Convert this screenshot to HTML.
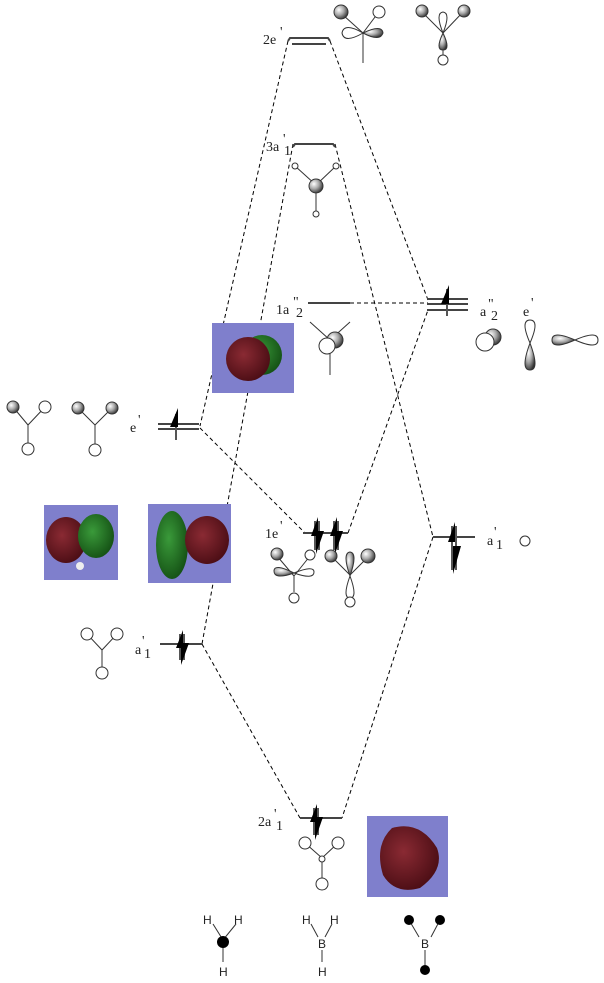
<!DOCTYPE html>
<html><head><meta charset="utf-8"><style>
html,body{margin:0;padding:0;background:#fff;}
svg{display:block;}
text{font-family:"Liberation Serif",serif;font-size:14px;fill:#222;}
.s{font-family:"Liberation Sans",sans-serif;font-size:12px;}
</style></head><body>
<svg width="604" height="983" viewBox="0 0 604 983" xmlns="http://www.w3.org/2000/svg">
<defs>
<radialGradient id="g" cx="35%" cy="35%" r="70%"><stop offset="0" stop-color="#fff"/><stop offset="0.5" stop-color="#aaa"/><stop offset="1" stop-color="#333"/></radialGradient>
<radialGradient id="red" cx="40%" cy="40%" r="65%"><stop offset="0" stop-color="#8a2a33"/><stop offset="1" stop-color="#4a0d14"/></radialGradient>
<radialGradient id="grn" cx="40%" cy="40%" r="65%"><stop offset="0" stop-color="#3a9a3a"/><stop offset="1" stop-color="#145014"/></radialGradient>
</defs>
<g stroke="#000" stroke-width="1" stroke-dasharray="4,3" fill="none">
<line x1="288" y1="41" x2="200" y2="426"/>
<line x1="330" y1="41" x2="428" y2="300"/>
<line x1="293" y1="144" x2="202" y2="644"/>
<line x1="335" y1="144" x2="433" y2="537"/>
<line x1="350" y1="303" x2="428" y2="303"/>
<line x1="200" y1="428" x2="305" y2="533"/>
<line x1="348" y1="533" x2="428" y2="310"/>
<line x1="202" y1="644" x2="300" y2="818"/>
<line x1="433" y1="537" x2="342" y2="818"/>
</g>
<g stroke="#444" stroke-width="2" fill="none">
<path d="M288 41 L290 38 L328 38 L330 41"/><line x1="292" y1="44" x2="326" y2="44"/>
<path d="M293 147 L295 144 L333 144 L335 147"/>
<line x1="308" y1="303" x2="350" y2="303"/>
<line x1="158" y1="424" x2="199" y2="424"/><line x1="158" y1="429" x2="199" y2="429"/>
<line x1="303" y1="533" x2="348" y2="533"/>
<line x1="427" y1="299" x2="468" y2="299"/><line x1="427" y1="304" x2="468" y2="304"/><line x1="427" y1="310" x2="468" y2="310"/>
<line x1="433" y1="537" x2="475" y2="537"/>
<line x1="160" y1="644" x2="202" y2="644"/>
<line x1="300" y1="818" x2="342" y2="818"/>
</g>
<g fill="#000" stroke="#555" stroke-width="2">
<line x1="176" y1="414" x2="176" y2="440"/><path d="M170 427 L178 408 L178 427Z" stroke="none"/>
<line x1="447" y1="289" x2="447" y2="316"/><path d="M441 304 L449 285 L449 304Z" stroke="none"/>
<g><line x1="180" y1="634" x2="180" y2="660"/><line x1="184" y1="634" x2="184" y2="660"/><path d="M176 648 L183 630 L183 648Z M181 643 L189 643 L181 665Z" stroke="none"/></g>
<g><line x1="315" y1="521" x2="315" y2="550"/><line x1="319" y1="521" x2="319" y2="550"/><path d="M311 536 L318 517 L318 536Z M316 531 L324 531 L316 554Z" stroke="none"/></g>
<g><line x1="334" y1="521" x2="334" y2="550"/><line x1="338" y1="521" x2="338" y2="550"/><path d="M330 536 L337 517 L337 536Z M335 531 L343 531 L335 554Z" stroke="none"/></g>
<g><line x1="452" y1="526" x2="452" y2="570"/><line x1="456" y1="526" x2="456" y2="570"/><path d="M448 542 L455 522 L455 542Z M453 546 L461 546 L453 574Z" stroke="none"/></g>
<g><line x1="314" y1="808" x2="314" y2="835"/><line x1="318" y1="808" x2="318" y2="835"/><path d="M310 822 L317 804 L317 822Z M315 817 L323 817 L315 840Z" stroke="none"/></g>
</g>
<text x="263" y="44">2e</text><text x="280" y="36" font-size="9">'</text>
<text x="266" y="151">3a</text><text x="283" y="143" font-size="9">'</text><text x="284" y="155" font-size="10">1</text>
<text x="276" y="314">1a</text><text x="293" y="306" font-size="9">"</text><text x="296" y="317" font-size="10">2</text>
<text x="130" y="432">e</text><text x="138" y="424" font-size="9">'</text>
<text x="265" y="538">1e</text><text x="280" y="530" font-size="9">'</text>
<text x="480" y="316">a</text><text x="488" y="308" font-size="9">"</text><text x="491" y="320" font-size="10">2</text>
<text x="523" y="316">e</text><text x="531" y="307" font-size="9">'</text>
<text x="487" y="545">a</text><text x="494" y="536" font-size="9">'</text><text x="496" y="549" font-size="10">1</text>
<text x="135" y="654">a</text><text x="142" y="645" font-size="9">'</text><text x="144" y="658" font-size="10">1</text>
<text x="258" y="826">2a</text><text x="274" y="818" font-size="9">'</text><text x="276" y="830" font-size="10">1</text>
<rect x="212" y="323" width="82" height="70" fill="#7f7fcc"/>
<circle cx="262" cy="355" r="20" fill="url(#grn)"/><circle cx="248" cy="359" r="22" fill="url(#red)"/>
<rect x="44" y="505" width="74" height="75" fill="#7f7fcc"/>
<ellipse cx="66" cy="540" rx="20" ry="23" fill="url(#red)"/><ellipse cx="96" cy="536" rx="18" ry="22" fill="url(#grn)"/><circle cx="80" cy="566" r="4" fill="#eee"/>
<rect x="148" y="504" width="83" height="79" fill="#7f7fcc"/>
<ellipse cx="172" cy="545" rx="16" ry="34" fill="url(#grn)"/><ellipse cx="207" cy="540" rx="22" ry="24" fill="url(#red)"/>
<rect x="367" y="816" width="81" height="81" fill="#7f7fcc"/>
<path d="M392 828 Q420 820 437 848 Q445 870 420 888 Q395 895 383 875 Q374 845 392 828Z" fill="url(#red)"/>
<g stroke="#333" stroke-width="1" fill="none">
<line x1="343" y1="15" x2="363" y2="33"/><line x1="378" y1="13" x2="363" y2="33"/><line x1="363" y1="33" x2="363" y2="63"/>
<path d="M363 33 Q344 22 342 33 Q344 44 363 33Z"/><path d="M363 33 Q382 24 383 33 Q380 42 363 33Z" fill="url(#g)"/>
<circle cx="341" cy="12" r="7" fill="url(#g)"/><circle cx="379" cy="12" r="6" fill="#fff"/>
<line x1="422" y1="12" x2="443" y2="33"/><line x1="463" y1="12" x2="443" y2="33"/><line x1="443" y1="33" x2="443" y2="55"/>
<path d="M443 33 Q435 13 443 12 Q451 13 443 33Z"/><path d="M443 33 Q435 50 443 50 Q451 50 443 33Z" fill="url(#g)"/>
<circle cx="422" cy="11" r="6" fill="url(#g)"/><circle cx="464" cy="11" r="6" fill="url(#g)"/><circle cx="443" cy="60" r="5" fill="#fff"/>
<line x1="295" y1="166" x2="316" y2="185"/><line x1="336" y1="166" x2="316" y2="185"/><line x1="316" y1="185" x2="316" y2="213"/>
<circle cx="295" cy="166" r="3" fill="#fff"/><circle cx="336" cy="166" r="3" fill="#fff"/><circle cx="316" cy="186" r="7" fill="url(#g)"/><circle cx="316" cy="214" r="3" fill="#fff"/>
<line x1="310" y1="322" x2="330" y2="340"/><line x1="350" y1="322" x2="330" y2="340"/><line x1="330" y1="340" x2="330" y2="375"/>
<circle cx="335" cy="340" r="8" fill="url(#g)"/><circle cx="327" cy="346" r="8" fill="#fff"/>
<circle cx="493" cy="337" r="8" fill="url(#g)"/><circle cx="485" cy="342" r="9" fill="#fff"/>
<path d="M530 343 Q520 320 530 320 Q540 320 530 343Z"/><path d="M530 343 Q520 370 530 370 Q540 370 530 343Z" fill="url(#g)"/>
<path d="M575 340 Q552 330 552 340 Q552 350 575 340Z" fill="url(#g)"/><path d="M575 340 Q598 330 598 340 Q598 350 575 340Z"/>
<line x1="13" y1="407" x2="28" y2="425"/><line x1="45" y1="407" x2="28" y2="425"/><line x1="28" y1="425" x2="28" y2="443"/>
<circle cx="13" cy="407" r="6" fill="url(#g)"/><circle cx="45" cy="407" r="6" fill="#fff"/><circle cx="28" cy="449" r="6" fill="#fff"/>
<line x1="78" y1="408" x2="95" y2="425"/><line x1="112" y1="408" x2="95" y2="425"/><line x1="95" y1="425" x2="95" y2="444"/>
<circle cx="78" cy="408" r="6" fill="url(#g)"/><circle cx="112" cy="408" r="6" fill="url(#g)"/><circle cx="95" cy="450" r="6" fill="#fff"/>
<line x1="277" y1="556" x2="294" y2="576"/><line x1="310" y1="556" x2="294" y2="576"/><line x1="294" y1="576" x2="294" y2="592"/>
<path d="M294 573 Q274 563 274 571 Q274 580 294 573Z" fill="url(#g)"/><path d="M294 573 Q314 565 314 572 Q314 580 294 573Z"/>
<circle cx="277" cy="554" r="6" fill="url(#g)"/><circle cx="310" cy="555" r="5" fill="#fff"/><circle cx="294" cy="598" r="5" fill="#fff"/>
<line x1="332" y1="557" x2="350" y2="575"/><line x1="368" y1="557" x2="350" y2="575"/>
<path d="M350 576 Q342 553 350 552 Q358 553 350 576Z" fill="url(#g)"/><path d="M350 576 Q342 598 350 598 Q358 598 350 576Z"/>
<circle cx="331" cy="556" r="6" fill="url(#g)"/><circle cx="368" cy="556" r="7" fill="url(#g)"/><circle cx="350" cy="602" r="5" fill="#fff"/>
<circle cx="525" cy="541" r="5" fill="#fff"/>
<line x1="87" y1="634" x2="102" y2="650"/><line x1="117" y1="634" x2="102" y2="650"/><line x1="102" y1="650" x2="102" y2="668"/>
<circle cx="87" cy="634" r="6" fill="#fff"/><circle cx="117" cy="634" r="6" fill="#fff"/><circle cx="102" cy="673" r="6" fill="#fff"/>
<line x1="305" y1="843" x2="322" y2="858"/><line x1="338" y1="843" x2="322" y2="858"/><line x1="322" y1="858" x2="322" y2="878"/>
<circle cx="305" cy="843" r="6" fill="#fff"/><circle cx="338" cy="843" r="6" fill="#fff"/><circle cx="322" cy="859" r="3" fill="#fff"/><circle cx="322" cy="884" r="6" fill="#fff"/>
<line x1="213" y1="924" x2="223" y2="940"/><line x1="236" y1="924" x2="223" y2="940"/><line x1="223" y1="940" x2="223" y2="962"/>
<line x1="311" y1="924" x2="318" y2="937"/><line x1="332" y1="924" x2="325" y2="937"/><line x1="322" y1="950" x2="322" y2="962"/>
<line x1="409" y1="920" x2="419" y2="937"/><line x1="440" y1="920" x2="431" y2="937"/><line x1="425" y1="950" x2="425" y2="967"/>
</g>
<circle cx="223" cy="942" r="6" fill="#000"/>
<circle cx="409" cy="920" r="5" fill="#000"/><circle cx="440" cy="920" r="5" fill="#000"/><circle cx="425" cy="970" r="5" fill="#000"/>
<text class="s" x="203" y="924">H</text><text class="s" x="234" y="924">H</text><text class="s" x="219" y="976">H</text>
<text class="s" x="302" y="924">H</text><text class="s" x="330" y="924">H</text><text class="s" x="318" y="948">B</text><text class="s" x="318" y="976">H</text>
<text class="s" x="421" y="948">B</text>
</svg>
</body></html>
